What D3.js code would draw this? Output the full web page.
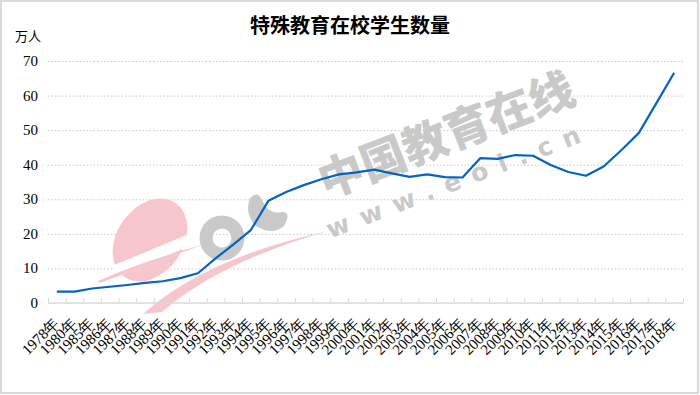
<!DOCTYPE html>
<html>
<head>
<meta charset="utf-8">
<script src="https://cdn.jsdelivr.net/npm/d3@7"></script>
<style>
  body { margin: 0; background: #fff; }
  svg { display: block; }
</style>
</head>
<body>
<div id="chart"></div>
<script>
const width = 700;
const height = 395;

// data
const years = ["1978", "1980", "1985", "1986", "1987", "1988", "1989", "1990", "1991", "1992",
  "1993", "1994", "1995", "1996", "1997", "1998", "1999", "2000", "2001", "2002",
  "2003", "2004", "2005", "2006", "2007", "2008", "2009", "2010", "2011", "2012",
  "2013", "2014", "2015", "2016", "2017", "2018"];
const students = [3.3, 3.3, 4.2, 4.7, 5.2, 5.8, 6.3, 7.2, 8.6, 12.9,
  16.9, 21.1, 29.6, 32.1, 34.1, 35.8, 37.2, 37.8, 38.6, 37.5,
  36.5, 37.2, 36.4, 36.3, 41.9, 41.7, 42.8, 42.6, 39.9, 37.9,
  36.8, 39.5, 44.2, 49.2, 57.9, 66.6];
const yTicks = [0, 10, 20, 30, 40, 50, 60, 70];

const svg = d3.select("#chart").append("svg")
  .attr("width", width)
  .attr("height", height);

// outer frame
svg.append("rect")
  .attr("x", 1).attr("y", 1)
  .attr("width", width - 3).attr("height", height - 3)
  .attr("fill", "#fff")
  .attr("stroke", "#d9d9d9")
  .attr("stroke-width", 2);

const x = d3.scaleBand()
  .domain(years)
  .range([48, 683]);

const y = d3.scaleLinear()
  .domain([0, 70])
  .range([303, 61]);

// gridlines
svg.append("g")
  .selectAll("line")
  .data(yTicks.filter(d => d > 0))
  .join("line")
  .attr("x1", 48).attr("x2", 683)
  .attr("y1", d => y(d) + 0.5).attr("y2", d => y(d) + 0.5)
  .attr("stroke", "#c8c8c8")
  .attr("stroke-width", 1)
  .attr("stroke-dasharray", "1.5,2");

// watermark
const wm = svg.append("g").attr("pointer-events", "none");
wm.append("ellipse")
  .attr("cx", 150).attr("cy", 240)
  .attr("rx", 33).attr("ry", 45)
  .attr("transform", "rotate(35,150,240)")
  .attr("fill", "#f7c6cd");
wm.append("path")
  .attr("d", "M112,266 Q170,242 218,222 L222,230 Q175,254 118,276 Z")
  .attr("fill", "#fff");
wm.append("path")
  .attr("d", "M143,314 Q205,258 328,231 Q220,262 162,312 Z")
  .attr("fill", "#f7c6cd");
wm.append("path")
  .attr("d", "M98,281 Q140,262 205,244 Q150,264 100,283 Z")
  .attr("fill", "#f7c6cd");
wm.append("circle")
  .attr("cx", 222).attr("cy", 238)
  .attr("r", 16)
  .attr("fill", "none")
  .attr("stroke", "#c9c9c9")
  .attr("stroke-width", 13);
wm.append("path")
  .attr("d", "M250,198 Q258,190 262,200 Q268,215 282,212 Q292,212 284,226 Q272,236 256,226 Q244,214 250,198 Z")
  .attr("fill", "#c9c9c9");
wm.append("text")
  .attr("transform", "translate(452,150) rotate(-21)")
  .attr("text-anchor", "middle")
  .attr("font-family", "'Noto Sans CJK SC', sans-serif")
  .attr("font-weight", 900)
  .attr("font-size", 45)
  .attr("fill", "#c9c9c9")
  .text("中国教育在线");
wm.append("text")
  .attr("transform", "translate(462,188) rotate(-21)")
  .attr("text-anchor", "middle")
  .attr("font-family", "'DejaVu Sans', sans-serif")
  .attr("font-weight", "bold")
  .attr("font-size", 25)
  .attr("letter-spacing", 12)
  .attr("fill", "#c9c9c9")
  .text("www.eol.cn");

// x axis line and ticks
svg.append("line")
  .attr("x1", 48).attr("x2", 683)
  .attr("y1", 303).attr("y2", 303)
  .attr("stroke", "#d9d9d9")
  .attr("stroke-width", 1.5);
svg.append("g")
  .selectAll("line")
  .data(years.concat(["end"]))
  .join("line")
  .attr("x1", (d, i) => 48 + i * x.step() + 0.5)
  .attr("x2", (d, i) => 48 + i * x.step() + 0.5)
  .attr("y1", 298).attr("y2", 303)
  .attr("stroke", "#d9d9d9");

// y labels
svg.append("g")
  .selectAll("text")
  .data(yTicks)
  .join("text")
  .attr("x", 38)
  .attr("y", d => y(d) + 5)
  .attr("text-anchor", "end")
  .attr("font-family", "'Liberation Serif', 'Times New Roman', serif")
  .attr("font-size", 15)
  .attr("fill", "#000")
  .text(d => d);

// x labels
svg.append("g")
  .selectAll("text")
  .data(years)
  .join("text")
  .attr("transform", d => `translate(${x(d) + x.bandwidth() / 2 + 3},${324}) rotate(-45)`)
  .attr("text-anchor", "end")
  .attr("font-family", "'Liberation Serif', 'Times New Roman', serif")
  .attr("font-size", 15)
  .attr("fill", "#000")
  .text(d => d + "年");

// line
const line = d3.line()
  .x((d, i) => x(years[i]) + x.bandwidth() / 2)
  .y(d => y(d));

svg.append("path")
  .datum(students)
  .attr("d", line)
  .attr("fill", "none")
  .attr("stroke", "#0563c1")
  .attr("stroke-width", 2.2)
  .attr("stroke-linejoin", "round");

// title and unit
svg.append("text")
  .attr("x", 350).attr("y", 33)
  .attr("text-anchor", "middle")
  .attr("font-family", "'Noto Sans CJK SC', sans-serif")
  .attr("font-weight", "bold")
  .attr("font-size", 20)
  .attr("fill", "#000")
  .text("特殊教育在校学生数量");

svg.append("text")
  .attr("x", 15).attr("y", 41)
  .attr("font-family", "'Noto Sans CJK SC', sans-serif")
  .attr("font-size", 13)
  .attr("fill", "#000")
  .text("万人");
</script>
</body>
</html>
